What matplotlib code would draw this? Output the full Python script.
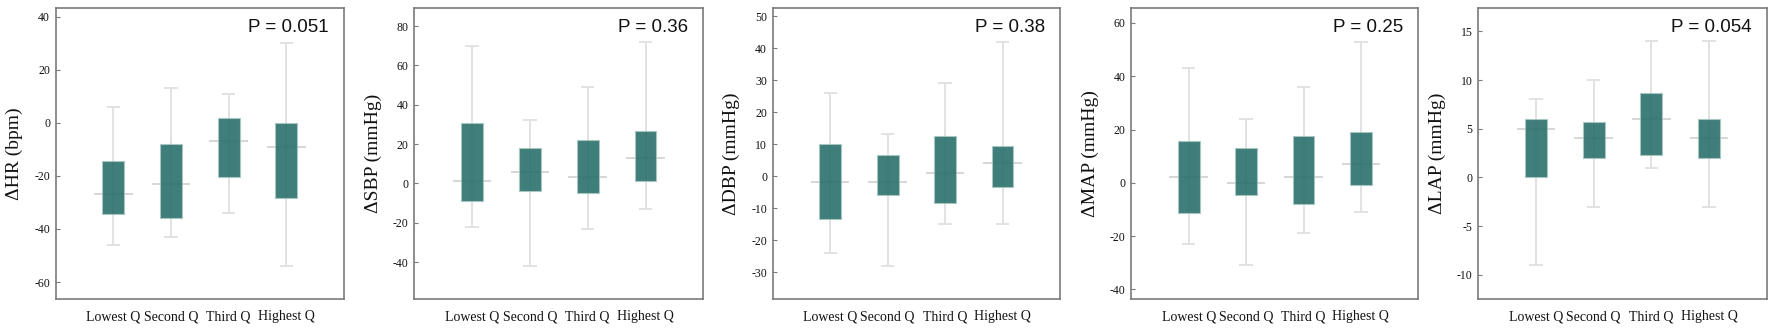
import matplotlib
matplotlib.use("Agg")
import matplotlib.pyplot as plt

categories = ["Lowest Q", "Second Q", "Third Q", "Highest Q"]

ylabels = ["\u0394HR (bpm)", "\u0394SBP (mmHg)", "\u0394DBP (mmHg)", "\u0394MAP (mmHg)", "\u0394LAP (mmHg)"]
p_values = ["P = 0.051", "P = 0.36", "P = 0.38", "P = 0.25", "P = 0.054"]

# per panel: whisker low, Q1, median, Q3, whisker high (one value per category)
hr_low = [-46, -43, -34, -54]
hr_q1 = [-34.4, -35.7, -20.5, -28.4]
hr_med = [-27, -23, -7, -9]
hr_q3 = [-14.3, -8.1, 2, 0]
hr_high = [6, 13, 11, 30]

sbp_low = [-22, -42, -23, -13]
sbp_q1 = [-8.8, -4.1, -5.1, 1.2]
sbp_med = [1, 6, 3, 13]
sbp_q3 = [30.8, 17.8, 21.9, 26.6]
sbp_high = [70, 32, 49, 72]

dbp_low = [-24, -28, -15, -15]
dbp_q1 = [-13.4, -6, -8.4, -3.5]
dbp_med = [-2, -2, 1, 4]
dbp_q3 = [9.9, 6.7, 12.5, 9.3]
dbp_high = [26, 13, 29, 42]

map_low = [-23, -31, -19, -11]
map_q1 = [-11.4, -4.7, -8.1, -0.9]
map_med = [2, 0, 2, 7]
map_q3 = [15.6, 12.9, 17.5, 19.1]
map_high = [43, 24, 36, 53]

lap_low = [-9, -3, 1, -3]
lap_q1 = [0, 2, 2.3, 2]
lap_med = [5, 4, 6, 4]
lap_q3 = [6, 5.7, 8.7, 6]
lap_high = [8, 10, 14, 14]

panels = [
    (hr_low, hr_q1, hr_med, hr_q3, hr_high),
    (sbp_low, sbp_q1, sbp_med, sbp_q3, sbp_high),
    (dbp_low, dbp_q1, dbp_med, dbp_q3, dbp_high),
    (map_low, map_q1, map_med, map_q3, map_high),
    (lap_low, lap_q1, lap_med, lap_q3, lap_high),
]

yticks = [
    list(range(-60, 41, 20)),
    list(range(-40, 81, 20)),
    list(range(-30, 51, 10)),
    list(range(-40, 61, 20)),
    list(range(-10, 16, 5)),
]
ylims = [(-66.4, 43.3), (-58.8, 89.2), (-38.4, 52.5), (-43.6, 65.6), (-12.5, 17.4)]

W, H = 1772, 333
fig = plt.figure(figsize=(W / 100, H / 100), dpi=100)

lefts = [55.7, 414.3, 772.7, 1131.3, 1478.3]
rights = [344, 703.3, 1060, 1418.3, 1766.7]
top_px, bot_px = 8, 299

serif = ["Liberation Serif", "DejaVu Serif"]
sans = ["Liberation Sans", "DejaVu Sans"]

box_color = "#2a706c"
whisk_color = "#e2e2e2"
spine_color = "#7a7a7a"

for i, (low, q1, med, q3, high) in enumerate(panels):
    ax = fig.add_axes([lefts[i] / W, 1 - bot_px / H, (rights[i] - lefts[i]) / W, (bot_px - top_px) / H])
    x = list(range(1, len(categories) + 1))
    # whiskers and caps
    ax.vlines(x, low, high, color=whisk_color, lw=1.4, zorder=1)
    ax.hlines(low, [v - 0.115 for v in x], [v + 0.115 for v in x], color=whisk_color, lw=1.4, zorder=1)
    ax.hlines(high, [v - 0.115 for v in x], [v + 0.115 for v in x], color=whisk_color, lw=1.4, zorder=1)
    # median lines (wider than boxes)
    ax.hlines(med, [v - 0.335 for v in x], [v + 0.335 for v in x], color="#cfcfcf", lw=1.2, zorder=2)
    # boxes
    heights = [b - a for a, b in zip(q1, q3)]
    ax.bar(x, heights, bottom=q1, width=0.38, color=box_color, alpha=0.9,
           edgecolor="#a9c6c4", linewidth=0.8, zorder=3)

    ax.set_xlim(0, 5)
    ax.set_ylim(*ylims[i])
    ax.set_xticks(x)
    ax.set_xticklabels(categories, fontfamily=serif, fontsize=10, color="#111111")
    ax.set_yticks(yticks[i])
    ax.set_yticklabels([str(t) for t in yticks[i]], fontfamily=serif, fontsize=8.5, color="#111111")
    ax.tick_params(axis="x", length=0, pad=8)
    ax.tick_params(axis="y", direction="in", length=3, width=0.8, color=spine_color, pad=4)
    for s in ax.spines.values():
        s.set_color(spine_color)
        s.set_linewidth(1.2)
    ax.set_ylabel(ylabels[i], fontfamily=serif, fontsize=14, color="#111111", va="center")
    ax.yaxis.set_label_coords(-41 / (rights[i] - lefts[i]), 0.5)
    ax.text(0.947, 0.933, p_values[i], transform=ax.transAxes, ha="right", va="center",
            fontfamily=sans, fontsize=13.5, color="#111111")

fig.savefig("out.png", dpi=100)
